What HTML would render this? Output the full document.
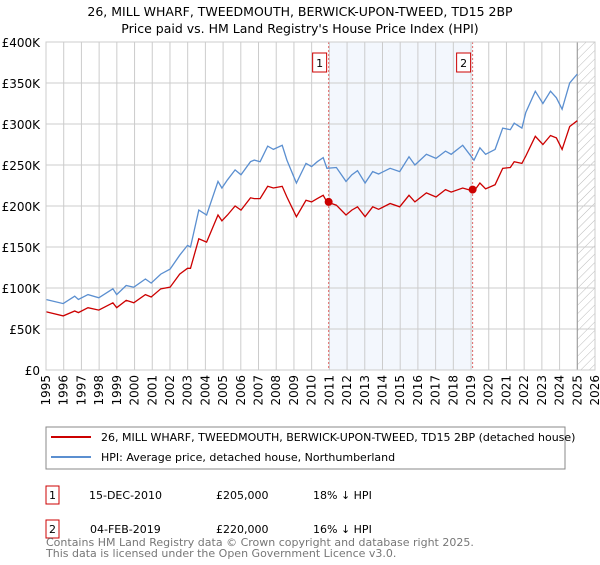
<!DOCTYPE html>
<html><head><meta charset="utf-8"><style>
body{margin:0;background:#fff;font-family:"Liberation Sans","DejaVu Sans",sans-serif;}
svg text{font-family:"DejaVu Sans","Liberation Sans",sans-serif;}
</style></head><body>
<svg id="chart" width="600" height="560" viewBox="0 0 600 560" xmlns="http://www.w3.org/2000/svg">
<text x="300" y="16" text-anchor="middle" font-size="12.5" fill="#000">26, MILL WHARF, TWEEDMOUTH, BERWICK-UPON-TWEED, TD15 2BP</text>
<text x="300" y="33" text-anchor="middle" font-size="12.5" fill="#000">Price paid vs. HM Land Registry's House Price Index (HPI)</text>
<defs><pattern id="hatch" width="6" height="6" patternUnits="userSpaceOnUse" patternTransform="rotate(45)"><line x1="0" y1="0" x2="0" y2="6" stroke="#bbb" stroke-width="1"/></pattern></defs>
<g id="grid"></g><g id="marks"></g>
<rect x="46" y="42" width="549" height="328" fill="none" stroke="#ccc"/>
<g>
<rect x="46" y="427" width="519" height="42" fill="#fff" stroke="#888"/>
<line x1="51" y1="437" x2="91" y2="437" stroke="#cc0000" stroke-width="2"/>
<text x="101" y="441" font-size="11">26, MILL WHARF, TWEEDMOUTH, BERWICK-UPON-TWEED, TD15 2BP (detached house)</text>
<line x1="51" y1="457" x2="91" y2="457" stroke="#5b8fd0" stroke-width="2"/>
<text x="101" y="461" font-size="11">HPI: Average price, detached house, Northumberland</text>
</g>
<g font-size="11">
<rect x="46" y="486" width="13" height="18" fill="#fff" stroke="#cc0000"/><text x="52.5" y="499" text-anchor="middle">1</text>
<text x="89" y="499">15-DEC-2010</text><text x="216" y="499">£205,000</text><text x="313" y="499">18% ↓ HPI</text>
<rect x="46" y="520" width="13" height="18" fill="#fff" stroke="#cc0000"/><text x="52.5" y="533" text-anchor="middle">2</text>
<text x="90" y="533">04-FEB-2019</text><text x="216" y="533">£220,000</text><text x="313" y="533">16% ↓ HPI</text>
</g>
<text x="46" y="546" font-size="11" fill="#777">Contains HM Land Registry data © Crown copyright and database right 2025.</text>
<text x="46" y="557" font-size="11" fill="#777">This data is licensed under the Open Government Licence v3.0.</text>
</svg>
<script>
const years=[1995.0,1995.97,1996.62,1996.83,1997.37,1997.98,1998.78,1998.99,1999.53,1999.96,2000.61,2000.94,2001.48,2002.01,2002.55,2002.99,2003.16,2003.63,2004.07,2004.71,2004.93,2005.25,2005.68,2006.01,2006.55,2006.76,2007.09,2007.52,2007.84,2008.34,2008.6,2009.14,2009.68,2010.0,2010.32,2010.65,2010.86,2011.4,2011.94,2012.27,2012.59,2013.02,2013.45,2013.78,2014.43,2014.97,2015.5,2015.83,2016.48,2017.02,2017.56,2017.88,2018.53,2019.17,2019.5,2019.82,2020.36,2020.79,2021.22,2021.44,2021.87,2022.09,2022.63,2023.06,2023.49,2023.82,2024.14,2024.57,2025.0];
const hpi=[86,81,90,86,92,88,99,92,103,101,111,106,117,123,140,152,150,195,189,230,222,232,244,238,254,256,254,273,269,274,256,228,252,248,254,259,246,247,230,238,243,228,242,239,246,242,260,250,263,258,267,263,274,256,271,263,269,295,293,301,295,314,340,325,340,332,318,350,361];
const property=[71,66,72,70,76,73,82,76,85,82,92,89,99,101,117,124,124,160,156,189,182,189,200,195,210,209,209,224,222,224,211,187,207,205,209,213,205,201,189,195,199,187,199,196,203,199,213,205,216,211,220,217,222,218,228,221,226,246,247,254,252,261,285,275,286,283,269,297,304];
const saleYears=[2010.96,2019.09];
const salePrices=[205,220];
const saleLabels=["1","2"];
const yTicks=[0,50,100,150,200,250,300,350,400];
const yTickLabels=["£0","£50K","£100K","£150K","£200K","£250K","£300K","£350K","£400K"];
const xTicks=[];for(let y=1995;y<=2026;y++)xTicks.push(y);
const NS="http://www.w3.org/2000/svg";
const X=y=>46+(y-1995)*(549/31);
const Y=v=>370-v*(328/400);
function mk(t,a,p){const e=document.createElementNS(NS,t);for(const k in a)e.setAttribute(k,a[k]);p.appendChild(e);return e;}
const grid=document.getElementById('grid'),marks=document.getElementById('marks');
const shade=mk('rect',{x:X(saleYears[0]),y:42,width:X(saleYears[1])-X(saleYears[0]),height:328,fill:'#eef3fc',opacity:0.7},grid);


const hat=mk('rect',{x:X(2025),y:42,width:595-X(2025),height:328,fill:'url(#hatch)'},grid);


yTicks.forEach((v,i)=>{
 const l=mk('line',{x1:46,x2:595,y1:Y(v),y2:Y(v),stroke:'#ccc'},grid);
 
 
 const t=mk('text',{x:40,y:Y(v)+5,'text-anchor':'end','font-size':12},grid);t.textContent=yTickLabels[i];
 
 
});
xTicks.forEach(yr=>{
 const l=mk('line',{x1:X(yr),x2:X(yr),y1:42,y2:370,stroke:'#ccc'},grid);
 
 
 const t=mk('text',{x:0,y:0,'text-anchor':'end','font-size':12,transform:`translate(${X(yr)+4},375) rotate(-90)`},grid);t.textContent=yr;
 
 
});
mk('line',{x1:X(2025),x2:X(2025),y1:42,y2:370,stroke:'#999'},grid);
saleYears.forEach((yr,i)=>{
 const l=mk('line',{x1:X(yr),x2:X(yr),y1:42,y2:370,stroke:'#e06666','stroke-dasharray':'2,2'},marks);
 
 
 const b=mk('rect',{x:X(yr)-16,y:53,width:14,height:19,fill:'#fff',stroke:'#cc0000'},marks);
 
 
 const t=mk('text',{x:X(yr)-9,y:67,'text-anchor':'middle','font-size':11},marks);t.textContent=saleLabels[i];
 
 
});
const pts=a=>a.map((v,i)=>X(years[i]).toFixed(1)+','+Y(v).toFixed(1)).join(' ');
const hl=mk('polyline',{points:pts(hpi),fill:'none',stroke:'#5b8fd0','stroke-width':1.3},marks);


const pl=mk('polyline',{points:pts(property),fill:'none',stroke:'#cc0000','stroke-width':1.3},marks);


saleYears.forEach((yr,i)=>{
 const c=mk('circle',{cx:X(yr),cy:Y(salePrices[i]),r:4,fill:'#cc0000'},marks);
 
 
});
</script>
</body></html>
